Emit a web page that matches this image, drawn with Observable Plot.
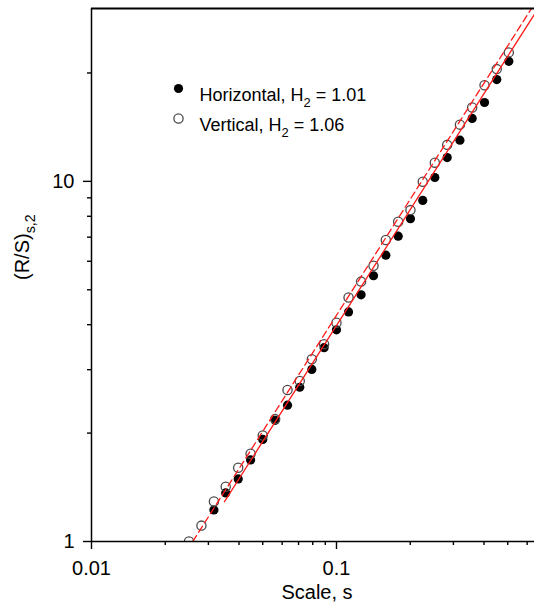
<!DOCTYPE html>
<html>
<head>
<meta charset="utf-8">
<script src="https://cdn.jsdelivr.net/npm/d3@7"></script>
<script src="https://cdn.jsdelivr.net/npm/@observablehq/plot@0.6"></script>
<style>
  html, body { margin: 0; padding: 0; background: white; overflow: hidden; }
</style>
</head>
<body>
<div id="chart"></div>
<script>
// Scale values (s)
const scaleH = [0.0316, 0.0353, 0.0397, 0.0446, 0.0500, 0.0562, 0.0631, 0.0708, 0.0793, 0.0890,
  0.100, 0.112, 0.126, 0.1416, 0.159, 0.1786, 0.2004, 0.225, 0.252, 0.283, 0.319, 0.358, 0.402, 0.451, 0.505];
const rsH = [1.223, 1.364, 1.492, 1.685, 1.921, 2.170, 2.391, 2.681, 3.005, 3.453,
  3.871, 4.341, 4.842, 5.470, 6.237, 7.045, 7.877, 8.852, 10.25, 11.64, 13.01, 14.95, 16.56, 19.17, 21.54];

const scaleV = [0.0250, 0.0281, 0.0316, 0.0353, 0.0397, 0.0446, 0.0500, 0.0562, 0.0631, 0.0708, 0.0793, 0.0890,
  0.100, 0.112, 0.126, 0.1416, 0.159, 0.1786, 0.2004, 0.225, 0.252, 0.283, 0.319, 0.358, 0.402, 0.451, 0.505];
const rsV = [1.00, 1.107, 1.291, 1.419, 1.603, 1.753, 1.970, 2.187, 2.634, 2.790, 3.206, 3.532,
  4.049, 4.759, 5.268, 5.833, 6.873, 7.723, 8.321, 9.98, 11.27, 12.63, 14.37, 16.03, 18.48, 20.50, 22.81];

// Fitted lines (end points)
const fitHs = [0.0349, 0.70];
const fitHr = [1.29, 31.9];
const fitVs = [0.0259, 0.70];
const fitVr = [1.00, 34.1];

// Legend
const legendNames = ["Horizontal", "Vertical"];
const legendH = ["1.01", "1.06"];

// Axes
const xDomain = [0.01, 0.643];
const yDomain = [1, 30.2];
const xMajor = [0.01, 0.1];
const xMinor = [0.02, 0.03, 0.04, 0.05, 0.06, 0.07, 0.08, 0.09, 0.2, 0.3, 0.4, 0.5, 0.6];
const yMajor = [1, 10];
const yMinor = [2, 3, 4, 5, 6, 7, 8, 9, 20];
const xLabel = "Scale, s";
const yLabel = "(R/S)_{s,2}";

const hData = scaleH.map((s, i) => ({s, r: rsH[i]}));
const vData = scaleV.map((s, i) => ({s, r: rsV[i]}));
const hFit = fitHs.map((s, i) => ({s, r: fitHr[i]}));
const vFit = fitVs.map((s, i) => ({s, r: fitVr[i]}));

const red = "#ff1a1a";
const font = "'Liberation Sans', Arial, Helvetica, sans-serif";

const chart = Plot.plot({
  width: 534,
  height: 609,
  marginLeft: 91,
  marginTop: 8,
  marginBottom: 68,
  marginRight: 0,
  style: {fontFamily: font, fontSize: "20px", background: "white", color: "black"},
  x: {type: "log", domain: xDomain},
  y: {type: "log", domain: yDomain},
  marks: [
    Plot.dot(hData, {x: "s", y: "r", r: 4.6, fill: "black", clip: true}),
    Plot.dot(vData, {x: "s", y: "r", r: 4.6, stroke: "#4a4a4a", strokeWidth: 1.3, fill: "none", clip: true}),
    Plot.line(hFit, {x: "s", y: "r", stroke: red, strokeWidth: 1.3, clip: true}),
    Plot.line(vFit, {x: "s", y: "r", stroke: red, strokeWidth: 1.3, strokeDasharray: "7,4", clip: true}),
    // frame lines
    Plot.ruleY([yDomain[1]], {stroke: "black", strokeWidth: 2}),
    Plot.ruleY([yDomain[0]], {stroke: "black", strokeWidth: 1.5}),
    Plot.ruleX([xDomain[0]], {stroke: "black", strokeWidth: 1.5}),
    // axes
    Plot.axisX(xMajor, {tickSize: 8, tickPadding: 11, strokeWidth: 1.4, fontSize: 20, tickFormat: d => String(d), label: null}),
    Plot.axisX(xMinor, {tickSize: 4, strokeWidth: 1.4, tickFormat: () => "", label: null}),
    Plot.axisY(yMajor, {tickSize: 8, tickPadding: 9, strokeWidth: 1.4, fontSize: 20, tickFormat: d => String(d), label: null}),
    Plot.axisY(yMinor, {tickSize: 4, strokeWidth: 1.4, tickFormat: () => "", label: null}),
    // axis titles
    Plot.text([xLabel], {frameAnchor: "bottom", dy: 57, dx: 4, fontSize: 20, text: d => d}),
    Plot.text([yLabel], {frameAnchor: "left", rotate: -90, dx: -69, dy: 5, fontSize: 20, text: d => d}),
    // legend
    Plot.dot([legendNames[0]], {frameAnchor: "top-left", dx: 87, dy: 80, r: 4.6, fill: "black"}),
    Plot.dot([legendNames[1]], {frameAnchor: "top-left", dx: 87, dy: 110, r: 4.6, stroke: "#4a4a4a", strokeWidth: 1.3, fill: "none"}),
    Plot.text([0], {frameAnchor: "top-left", dx: 108, dy: 80, textAnchor: "start", fontSize: 18,
      text: () => `${legendNames[0]}, H_{2} = ${legendH[0]}`}),
    Plot.text([1], {frameAnchor: "top-left", dx: 108, dy: 110, textAnchor: "start", fontSize: 18,
      text: () => `${legendNames[1]}, H_{2} = ${legendH[1]}`})
  ]
});

document.getElementById("chart").appendChild(chart);

// Turn "_{...}" into real subscript tspans
const NS = "http://www.w3.org/2000/svg";
chart.querySelectorAll("text").forEach(t => {
  const content = t.textContent;
  if (!/_\{/.test(content)) return;
  const fs = parseFloat(getComputedStyle(t).fontSize) || 20;
  const parts = content.split(/_\{([^}]*)\}/);
  while (t.firstChild) t.removeChild(t.firstChild);
  parts.forEach((p, i) => {
    if (p === "") return;
    const ts = document.createElementNS(NS, "tspan");
    ts.textContent = p;
    if (i % 2 === 1) {
      ts.setAttribute("font-size", (fs * 0.72) + "px");
      ts.setAttribute("dy", (fs * 0.3) + "px");
    } else if (i > 0) {
      ts.setAttribute("dy", (-fs * 0.3) + "px");
    }
    t.appendChild(ts);
  });
});
</script>
</body>
</html>
